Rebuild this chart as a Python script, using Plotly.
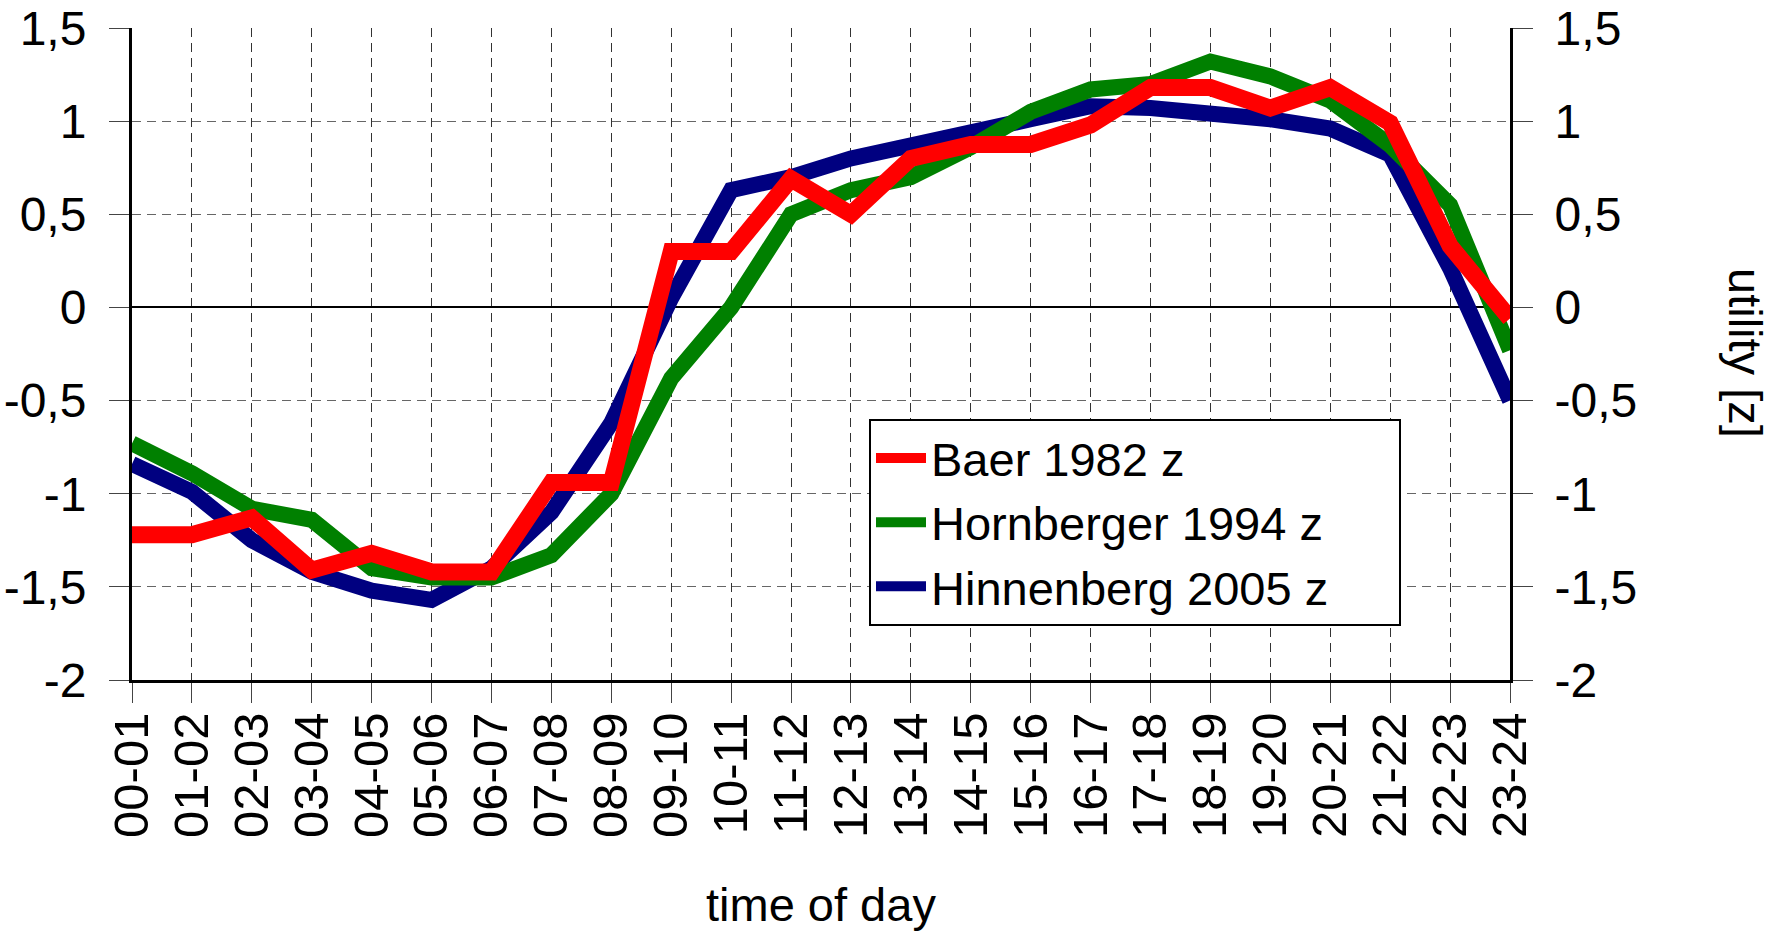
import plotly.graph_objects as go

# time of day categories
hours = ["00-01", "01-02", "02-03", "03-04", "04-05", "05-06", "06-07", "07-08",
         "08-09", "09-10", "10-11", "11-12", "12-13", "13-14", "14-15", "15-16",
         "16-17", "17-18", "18-19", "19-20", "20-21", "21-22", "22-23", "23-24"]

# utility z-scores
baer_1982 = [-1.22, -1.22, -1.13, -1.41, -1.32, -1.42, -1.42, -0.94, -0.94, 0.30, 0.30, 0.69,
             0.50, 0.80, 0.875, 0.875, 0.98, 1.18, 1.18, 1.07, 1.18, 0.99, 0.33, -0.06]
hornberger_1994 = [-0.73, -0.89, -1.08, -1.14, -1.40, -1.45, -1.45, -1.33, -1.00, -0.38, 0.00, 0.50,
                   0.63, 0.70, 0.86, 1.05, 1.17, 1.20, 1.32, 1.24, 1.11, 0.87, 0.55, -0.23]
hinnenberg_2005 = [-0.84, -0.99, -1.25, -1.42, -1.52, -1.57, -1.40, -1.10, -0.62, 0.05, 0.63, 0.70,
                   0.80, 0.86, 0.94, 1.01, 1.08, 1.07, 1.05, 1.01, 0.96, 0.82, 0.21, -0.50]

y_ticks = [-2, -1.5, -1, -0.5, 0, 0.5, 1, 1.5]
y_ticktext = ["-2", "-1,5", "-1", "-0,5", "0", "0,5", "1", "1,5"]

FONT = "Liberation Sans, Arial, sans-serif"
FS = 47
NBSP = "\u00a0"

fig = go.Figure()

# drawing order: blue, green, red on top
fig.add_trace(go.Scatter(x=hours, y=hinnenberg_2005, mode='lines', name="Hinnenberg 2005 z" + NBSP * 5,
                         line=dict(color='#000080', width=16)))
fig.add_trace(go.Scatter(x=hours, y=hornberger_1994, mode='lines', name="Hornberger 1994 z",
                         line=dict(color='#008000', width=16)))
fig.add_trace(go.Scatter(x=hours, y=baer_1982, mode='lines', name="Baer 1982 z",
                         line=dict(color='#ff0000', width=17)))
# carrier for the right-hand axis
fig.add_trace(go.Scatter(x=hours, y=baer_1982, mode='lines', yaxis='y2', showlegend=False,
                         hoverinfo='skip', line=dict(color='rgba(0,0,0,0)', width=0)))

fig.update_layout(
    width=1774, height=933,
    margin=dict(l=132, r=264, t=28, b=253),
    paper_bgcolor='white', plot_bgcolor='white',
    font=dict(family=FONT, size=FS, color='black'),
    showlegend=True,
    legend=dict(x=(869 - 132) / 1378, y=(680 - 419) / 652, xanchor='left', yanchor='top',
                traceorder='reversed',
                bgcolor='white', bordercolor='black', borderwidth=2,
                font=dict(size=FS), itemwidth=50),
    xaxis=dict(type='category', range=[0, 23], tickangle=-90, automargin=False,
               showgrid=True, gridcolor='#333', griddash='9px,6px', gridwidth=1,
               showline=True, linecolor='black', linewidth=3,
               ticks='outside', ticklen=20, tickcolor='#444', tickwidth=1,
               ticklabelstandoff=-10, tickfont=dict(size=49)),
    yaxis=dict(range=[-2, 1.5], tickvals=y_ticks, ticktext=y_ticktext, automargin=False,
               showgrid=True, gridcolor='#666', griddash='9px,6px', gridwidth=1,
               zeroline=True, zerolinecolor='black', zerolinewidth=2,
               showline=True, linecolor='black', linewidth=3,
               ticks='outside', ticklen=20, tickcolor='#444', tickwidth=1,
               ticklabeloverflow='allow', ticklabelstandoff=13, tickfont=dict(size=48)),
    yaxis2=dict(range=[-2, 1.5], overlaying='y', side='right', tickvals=y_ticks, ticktext=y_ticktext,
                automargin=False, showgrid=False, zeroline=False,
                showline=True, linecolor='black', linewidth=3,
                ticks='outside', ticklen=20, tickcolor='#444', tickwidth=1,
                ticklabeloverflow='allow', ticklabelstandoff=12, tickfont=dict(size=48)),
    annotations=[
        dict(text="time of day", x=0.5, y=-0.345, xref='paper', yref='paper',
             xanchor='center', yanchor='middle', showarrow=False, font=dict(size=FS)),
        dict(text="utility [z]", x=(1746 - 132) / 1378, y=0.5015, xref='paper', yref='paper',
             xanchor='center', yanchor='middle', textangle=90, showarrow=False, font=dict(size=FS)),
    ],
)

# drop the browser's default 8px body margin so the figure fills the window
fig.write_html("out.html", config={'displayModeBar': False},
               post_script="document.body.style.margin = '0';")
